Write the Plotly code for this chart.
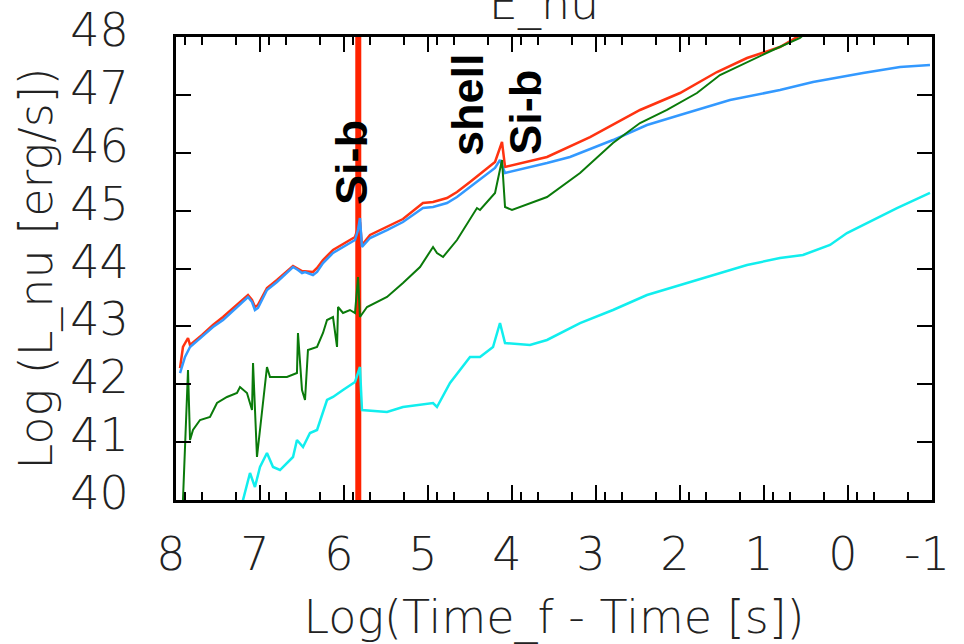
import plotly.graph_objects as go

# ---- data ----
red_x = [7.952, 7.917, 7.857, 7.833, 7.690, 7.560, 7.440, 7.274, 7.143, 7.095, 7.060, 7.024,
         6.917, 6.798, 6.679, 6.607, 6.5, 6.369, 6.321, 6.25, 6.131, 6.012, 5.869, 5.810,
         5.786, 5.690, 5.488, 5.298, 5.060, 4.940, 4.774, 4.655, 4.5, 4.345, 4.202, 4.119,
         4.083, 3.583, 3.071, 2.476, 2.0, 1.560, 1.202, 0.810, 0.631, 0.57]
red_y = [42.28, 42.644, 42.799, 42.678, 42.851, 43.024, 43.162, 43.370, 43.542, 43.456, 43.335, 43.370,
         43.663, 43.801, 43.957, 44.043, 43.957, 43.940, 44.009, 44.147, 44.320, 44.423, 44.544, 44.80,
         44.406, 44.579, 44.717, 44.855, 45.132, 45.149, 45.218, 45.322, 45.495, 45.667, 45.840, 46.186,
         45.754, 45.927, 46.272, 46.739, 47.032, 47.395, 47.637, 47.827, 47.983, 48.03]

blue_x = [7.952, 7.893, 7.833, 7.690, 7.560, 7.440, 7.274, 7.143, 7.095, 7.060, 7.024, 6.917,
          6.798, 6.679, 6.607, 6.548, 6.5, 6.464, 6.369, 6.321, 6.25, 6.131, 6.012, 5.869,
          5.833, 5.810, 5.786, 5.690, 5.488, 5.298, 5.060, 4.940, 4.774, 4.655, 4.5, 4.345,
          4.202, 4.143, 4.083, 3.583, 3.310, 2.798, 2.393, 2.0, 1.405, 0.810, 0.417, -0.179,
          -0.619, -0.976]
blue_y = [42.194, 42.471, 42.644, 42.816, 42.989, 43.110, 43.335, 43.508, 43.421, 43.283, 43.318, 43.629,
          43.767, 43.922, 44.026, 43.974, 43.922, 43.940, 43.888, 43.940, 44.095, 44.268, 44.371, 44.492,
          44.665, 44.873, 44.371, 44.527, 44.665, 44.803, 45.045, 45.063, 45.132, 45.235, 45.408, 45.581,
          45.737, 45.875, 45.650, 45.823, 45.927, 46.220, 46.479, 46.652, 46.911, 47.084, 47.222, 47.378,
          47.482, 47.516]

green_x = [7.93, 7.917, 7.857, 7.833, 7.798, 7.714, 7.595, 7.512, 7.393, 7.274, 7.238, 7.155,
           7.095, 7.083, 7.036, 7.0, 6.917, 6.881, 6.679, 6.560, 6.548, 6.5, 6.464, 6.429,
           6.321, 6.25, 6.202, 6.131, 6.083, 6.071, 6.012, 5.929, 5.869, 5.833, 5.810, 5.726,
           5.488, 5.298, 5.095, 4.940, 4.893, 4.821, 4.655, 4.417, 4.381, 4.202, 4.119, 4.083,
           4.0, 3.583, 3.190, 2.798, 2.476, 2.155, 1.798, 1.524, 1.202, 0.893, 0.571, 0.52]
green_y = [39.9, 40.0, 42.246, 41.037, 41.210, 41.382, 41.434, 41.676, 41.780, 41.849, 41.953, 41.849,
           41.555, 42.367, 40.743, 41.210, 42.298, 42.125, 42.125, 42.194, 42.886, 41.901, 41.728, 42.592,
           42.644, 42.886, 43.110, 43.162, 42.644, 43.335, 43.231, 43.283, 43.231, 43.853, 43.162, 43.335,
           43.508, 43.750, 44.026, 44.371, 44.268, 44.199, 44.492, 45.045, 45.011, 45.305, 45.875, 45.063,
           45.011, 45.235, 45.650, 46.168, 46.514, 46.739, 47.032, 47.343, 47.568, 47.775, 47.983, 48.05]

cyan_x = [7.22, 7.202, 7.119, 7.060, 7.0, 6.917, 6.845, 6.762, 6.607, 6.560, 6.488, 6.405,
          6.321, 6.202, 6.131, 6.012, 5.869, 5.810, 5.786, 5.488, 5.298, 4.940, 4.893, 4.738,
          4.5, 4.381, 4.226, 4.143, 4.083, 3.786, 3.583, 3.190, 2.798, 2.393, 2.0, 1.607,
          1.202, 0.810, 0.536, 0.214, 0.012, -0.583, -0.976]
cyan_y = [39.9, 40.0, 40.467, 40.225, 40.570, 40.812, 40.570, 40.518, 40.743, 41.037, 40.916, 41.158,
          41.210, 41.728, 41.780, 41.901, 42.039, 42.298, 41.555, 41.521, 41.607, 41.676, 41.607, 42.022,
          42.471, 42.471, 42.644, 43.058, 42.713, 42.678, 42.765, 43.058, 43.283, 43.542, 43.715, 43.888,
          44.060, 44.181, 44.233, 44.406, 44.613, 45.045, 45.305]

marker_x = [5.83, 5.83]
marker_y = [39.9, 48.1]

labels = ["Si-b", "shell", "Si-b"]
label_x = [5.917, 4.536, 3.833]
label_y = [45.84, 46.84, 46.69]

x_ticks = [8, 7, 6, 5, 4, 3, 2, 1, 0, -1]
y_ticks = [40, 41, 42, 43, 44, 45, 46, 47, 48]
minor_x = [n - f for n in range(8, -1, -1) for f in (0.11, 0.31, 0.72)]

TXT = dict(family="DejaVu Sans", size=46, color="#222", weight=200)

fig = go.Figure()
fig.add_trace(go.Scatter(x=marker_x, y=marker_y, mode="lines",
                         line=dict(color="#ff2200", width=6), cliponaxis=False))
fig.add_trace(go.Scatter(x=red_x, y=red_y, mode="lines", line=dict(color="#ff3311", width=2.5)))
fig.add_trace(go.Scatter(x=blue_x, y=blue_y, mode="lines", line=dict(color="#3399ff", width=2.5)))
fig.add_trace(go.Scatter(x=green_x, y=green_y, mode="lines", line=dict(color="#0a7a0a", width=2)))
fig.add_trace(go.Scatter(x=cyan_x, y=cyan_y, mode="lines", line=dict(color="#11eeee", width=2.5)))

for t, x, y in zip(labels, label_x, label_y):
    fig.add_annotation(x=x, y=y, xref="x", yref="y", text="<b>" + t + "</b>", textangle=-90,
                       showarrow=False, font=dict(family="Liberation Sans", size=45, color="black"))

axis_common = dict(showline=True, linecolor="black", linewidth=3, mirror="ticks",
                   ticks="inside", ticklen=15, tickwidth=2, tickcolor="black",
                   showgrid=False, zeroline=False, tickfont=TXT)

fig.update_xaxes(range=[8, -1], tickmode="array", tickvals=x_ticks, ticktext=[str(v) for v in x_ticks],
                 minor=dict(tickmode="array", tickvals=minor_x, ticks="inside", ticklen=8,
                            tickwidth=2, tickcolor="black"),
                 title=dict(text="Log(Time_f - Time [s])", standoff=24, font=TXT),
                 ticklabelstandoff=12, ticklabelshift=5, **axis_common)
fig.update_yaxes(range=[40, 48], tickmode="array", tickvals=y_ticks, ticktext=[str(v) for v in y_ticks],
                 title=dict(text="Log (L_nu [erg/s])", standoff=4, font=TXT),
                 ticklabelstandoff=35, ticklabelshift=-7, **axis_common)

fig.update_layout(width=964, height=644, margin=dict(l=176, r=32, t=37, b=144, autoexpand=False),
                  plot_bgcolor="white", paper_bgcolor="white", showlegend=False,
                  title=dict(text="E_nu", x=544 / 964, xanchor="center", y=0.995, yanchor="middle",
                             yref="container", font=TXT))

fig.write_html("out.html")
